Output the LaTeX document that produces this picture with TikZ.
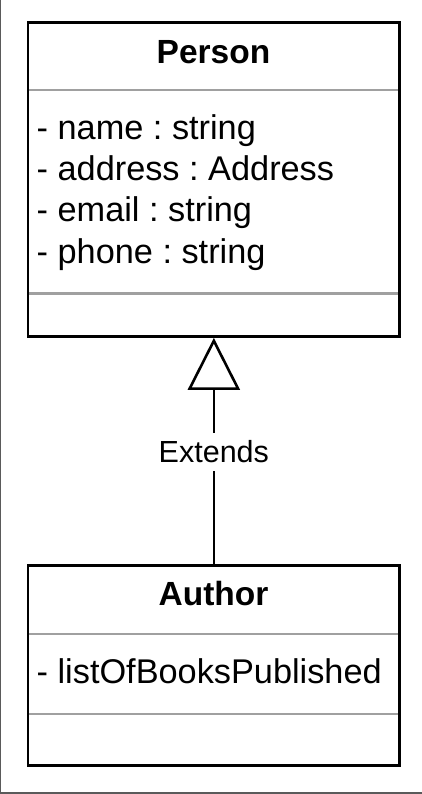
\documentclass[tikz,border=0pt]{standalone}
\usepackage{fontspec}
\setmainfont{Liberation Sans}
\usetikzlibrary{arrows.meta}
\definecolor{sepgray}{HTML}{A0A0A0}
\definecolor{framegray}{HTML}{5A5A5A}
\frenchspacing
\tikzset{
  classbox/.style={draw=black, line width=2.8pt, rectangle, outer sep=0pt, inner sep=0pt, fill=none},
  sepline/.style={draw=sepgray, line width=2.4pt, shorten <=1.4pt, shorten >=1.4pt},
  titletext/.style={font=\fontsize{33.5}{40}\selectfont\bfseries, inner sep=0pt, anchor=base},
  attrtext/.style={font=\fontsize{34.3}{40}\selectfont\frenchspacing, inner sep=0pt, anchor=base west},
  lbltext/.style={font=\fontsize{30.5}{36}\selectfont, fill=white, inner xsep=3pt, inner ysep=8pt},
  inherit/.style={draw=black, line width=2.6pt, -{Triangle[open, length=52pt, width=52pt]}},
  framestyle/.style={draw=framegray, line width=1.5pt}
}
\begin{document}
\begin{tikzpicture}[x=1pt, y=-1pt]
\useasboundingbox (0,0) rectangle (422,794);
% frame (left and bottom edges)
\draw[framestyle] (0.7,0) -- (0.7,792.8) -- (422,792.8);
% separators (drawn under the boxes)
\draw[sepline] (28,90) -- (399.7,90);
\draw[sepline] (28,293.3) -- (399.7,293.3);
\draw[sepline] (28,634) -- (399.7,634);
\draw[sepline] (28,713.7) -- (399.7,713.7);
% class boxes
\node[classbox, minimum width=371.7pt, minimum height=314.2pt] (person) at (213.85,179.6) {};
\node[classbox, minimum width=371.7pt, minimum height=200pt] (author) at (213.85,665.5) {};
% Person texts
\node[titletext] (ptitle) at (213.5,64) {Person};
\node[attrtext] (a1) at (36.5,139.3) {- name : string};
\node[attrtext] (a2) at (36.5,181) {- address : Address};
\node[attrtext] (a3) at (36.5,221.7) {- email : string};
\node[attrtext] (a4) at (36.5,263.3) {- phone : string};
% Author texts
\node[titletext] (atitle) at (213.5,605.7) {Author};
\node[attrtext] (b1) at (36.5,683.3) {- listOfBooksPublished};
% inheritance connector
\draw[inherit] (author.north) -- node[lbltext] (ext) {Extends} ([yshift=-1.2pt]person.south);
\end{tikzpicture}
\end{document}
